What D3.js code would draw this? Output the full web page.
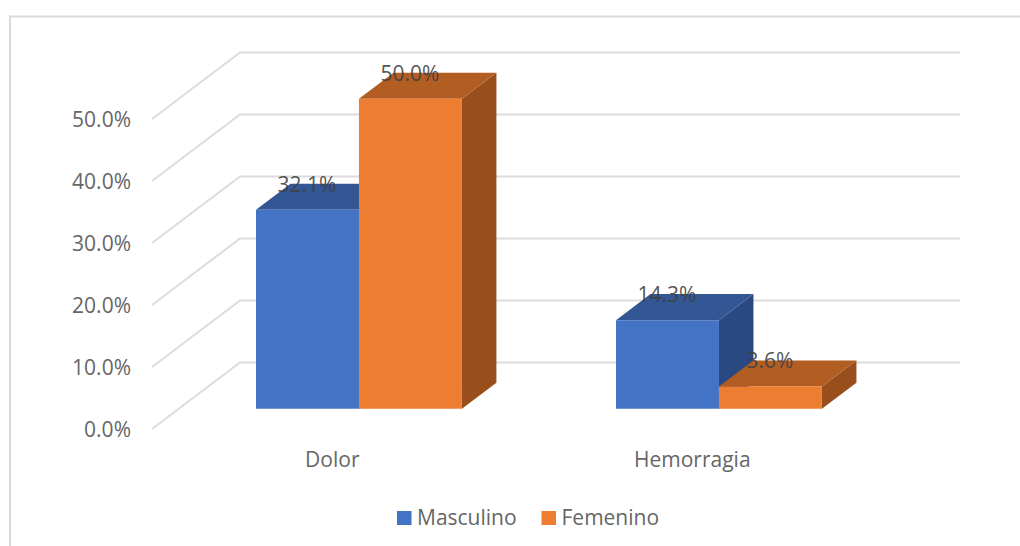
<!DOCTYPE html>
<html>
<head>
<meta charset="utf-8">
<script src="https://cdn.jsdelivr.net/npm/d3@7"></script>
<style>
html,body{margin:0;padding:0;background:#fff;overflow:hidden}
text{font-family:"Open Sans",Lato,sans-serif}
</style>
</head>
<body>
<svg id="chart" width="1020" height="546"></svg>
<script>
// Chart values
const categories = ["Dolor", "Hemorragia"];
const seriesNames = ["Masculino", "Femenino"];
const masculino = [32.1, 14.3];
const femenino = [50.0, 3.6];
const tickValues = [0, 10, 20, 30, 40, 50];

// Face colours per series: front, top, side
const frontColors = ["#4472c4", "#ed7d31"];
const topColors = ["#335695", "#b25d21"];
const sideColors = ["#2a4881", "#994f1b"];

const svg = d3.select("#chart");

// Oblique projection: depth 0 is the front edge of the floor, 1 the back wall
const depthX = d3.scaleLinear().domain([0, 1]).range([0, 88]);
const depthY = d3.scaleLinear().domain([0, 1]).range([0, -66.5]);
const barDepthStart = 0.303, barDepthEnd = 0.695;

const y = d3.scaleLinear().domain([0, 50]).range([429, 119]);
const x0 = d3.scaleBand().domain(categories).range([152.3, 872.3]).paddingInner(0.428).paddingOuter(0.214);
const x1 = d3.scaleBand().domain(seriesNames).range([0, x0.bandwidth()]);

const project = (px, v, d) => [px + depthX(d), y(v) + depthY(d)];
const poly = pts => pts.map(p => p.join(",")).join(" ");

// Outer frame of the chart area
svg.append("path")
  .attr("d", "M10,546V16.5H1020")
  .attr("fill", "none").attr("stroke", "#d9d9d9").attr("stroke-width", 2);

// Gridlines run along the side wall, then across the back wall
svg.append("g").selectAll("polyline").data(tickValues).join("polyline")
  .attr("fill", "none").attr("stroke", "#dcdcdc").attr("stroke-width", 2)
  .attr("points", v => poly([project(152, v, 0), project(152, v, 1), project(872, v, 1)]));

// Value axis
const axis = d3.axisLeft(y).tickValues(tickValues).tickSize(0).tickPadding(21)
  .tickFormat(v => v.toFixed(1) + "%");
const axisG = svg.append("g").attr("transform", "translate(152,1)").call(axis);
axisG.select(".domain").remove();
axisG.selectAll("text").attr("fill", "#666666").attr("font-size", 21)
  .style("font-family", "'Open Sans',Lato,sans-serif").attr("dy", "0.33em");

// Bars, one oblique box per value
const rows = seriesNames.map((name, s) => ({
  name, s, values: s === 0 ? masculino : femenino
}));
const cells = rows.flatMap(r => r.values.map((value, i) => ({
  s: r.s, name: r.name, value, cat: categories[i]
})));
const bars = svg.append("g").selectAll("g").data(cells).join("g");
const left = d => x0(d.cat) + x1(d.name);
const right = d => left(d) + x1.bandwidth();

bars.append("polygon").attr("fill", d => sideColors[d.s])
  .attr("points", d => poly([
    project(right(d), 0, barDepthStart), project(right(d), 0, barDepthEnd),
    project(right(d), d.value, barDepthEnd), project(right(d), d.value, barDepthStart)]));
bars.append("polygon").attr("fill", d => topColors[d.s])
  .attr("points", d => poly([
    project(left(d), d.value, barDepthStart), project(left(d), d.value, barDepthEnd),
    project(right(d), d.value, barDepthEnd), project(right(d), d.value, barDepthStart)]));
bars.append("polygon").attr("fill", d => frontColors[d.s])
  .attr("points", d => poly([
    project(left(d), 0, barDepthStart), project(right(d), 0, barDepthStart),
    project(right(d), d.value, barDepthStart), project(left(d), d.value, barDepthStart)]));

// Value labels sit over the rear edge of each bar top
svg.append("g").selectAll("text").data(cells).join("text")
  .attr("text-anchor", "middle").attr("font-size", 21).attr("fill", "#404040").attr("fill-opacity", 0.9)
  .attr("x", d => (left(d) + right(d)) / 2 + depthX(barDepthStart) - 0.5)
  .attr("y", d => project(0, d.value, barDepthEnd)[1] + 8)
  .text(d => d.value.toFixed(1) + "%");

// Category labels
svg.append("g").selectAll("text").data(categories).join("text")
  .attr("text-anchor", "middle").attr("font-size", 21).attr("fill", "#666666")
  .attr("x", c => x0(c) + x0.bandwidth() / 2)
  .attr("y", 467)
  .text(c => c);

// Legend
const legendSwatchX = [397, 541.5];
const legend = svg.append("g").selectAll("g").data(seriesNames).join("g")
  .attr("transform", (d, i) => `translate(${legendSwatchX[i]},511)`);
legend.append("rect").attr("width", 14.5).attr("height", 14).attr("fill", (d, i) => frontColors[i]);
legend.append("text").attr("x", 20).attr("y", 14).attr("font-size", 21).attr("fill", "#666666").text(d => d);
</script>
</body>
</html>
